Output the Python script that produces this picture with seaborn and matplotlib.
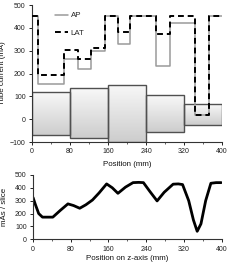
import numpy as np
import pandas as pd
import matplotlib
matplotlib.use("Agg")
import matplotlib.pyplot as plt
from matplotlib.patches import Rectangle
from matplotlib.ticker import MultipleLocator
import seaborn as sns

# --- data ---
step_edges = [0, 12, 68, 96, 124, 154, 180, 206, 262, 290, 343, 373, 400]
ap_values = [450, 155, 265, 220, 300, 450, 330, 450, 235, 420, 20, 450, 450]
lat_values = [450, 195, 305, 265, 310, 450, 380, 450, 375, 450, 20, 450, 450]

body_starts = [0, 80, 160, 240, 320]
body_ends = [80, 160, 240, 320, 400]
body_tops = [117, 136, 150, 104, 66]
body_bottoms = [-69, -81, -100, -54, -25]

mas_pos = [0, 5, 12, 20, 30, 42, 58, 74, 86, 99, 112, 126, 140, 156, 168, 180, 196, 212, 224, 234, 248, 263, 278, 297, 308, 317, 330, 340, 348, 356, 366, 377, 388, 399]
mas_vals = [325, 270, 200, 172, 172, 172, 225, 275, 262, 241, 268, 305, 360, 430, 400, 357, 405, 440, 442, 440, 370, 298, 365, 428, 430, 425, 300, 150, 62, 120, 300, 435, 440, 440]

x_ticks = [0, 80, 160, 240, 320, 400]

sns.set_style("white")
plt.rcParams['font.family'] = ['Liberation Sans', 'DejaVu Sans']

fig = plt.figure(figsize=(2.41, 2.65), dpi=100)
ax1 = fig.add_axes([0.133, 0.464, 0.788, 0.517])
ax2 = fig.add_axes([0.137, 0.097, 0.783, 0.243])

fs = 5.0
lfs = 5.7

# gradient body rectangles
grad = np.linspace(0, 1, 100).reshape(-1, 1)
cmap = matplotlib.colors.LinearSegmentedColormap.from_list('g', ['#f8f8f8', '#cdcdcd'])
for x0, x1, top, bot in zip(body_starts, body_ends, body_tops, body_bottoms):
    rect = Rectangle((x0, bot), x1 - x0, top - bot, facecolor='none',
                     edgecolor='#505050', linewidth=1.0, zorder=2)
    ax1.add_patch(rect)
    im = ax1.imshow(grad, extent=[x0, x1, bot, top], origin='upper',
                    cmap=cmap, aspect='auto', zorder=1)
    im.set_clip_path(rect)

df = pd.DataFrame({'pos': step_edges, 'AP': ap_values, 'LAT': lat_values})
sns.lineplot(data=df, x='pos', y='AP', ax=ax1, drawstyle='steps-post',
             color='#9a9a9a', linewidth=1.1, label='AP', zorder=3)
sns.lineplot(data=df, x='pos', y='LAT', ax=ax1, drawstyle='steps-post',
             color='black', linewidth=1.4, linestyle=(0, (3, 2)), label='LAT', zorder=4)

ax1.set_xlim(0, 400)
ax1.set_ylim(-100, 500)
ax1.set_xticks(x_ticks)
ax1.set_yticks(range(-100, 501, 100))
ax1.set_xlabel('Position (mm)', fontsize=lfs, labelpad=4, color='#111111')
ax1.set_ylabel('Tube current (mA)', fontsize=lfs, color='#111111')
ax1.yaxis.set_label_coords(-0.135, 0.5)
leg = ax1.legend(loc='upper left', bbox_to_anchor=(0.12, 0.95), frameon=False,
                 fontsize=lfs, handlelength=1.7, labelspacing=1.3, handletextpad=0.3,
                 borderaxespad=0, borderpad=0)

dfm = pd.DataFrame({'pos': mas_pos, 'mas': mas_vals})
sns.lineplot(data=dfm, x='pos', y='mas', ax=ax2, color='black', linewidth=2.0)
ax2.set_xlim(0, 400)
ax2.set_ylim(0, 500)
ax2.set_xticks(x_ticks)
ax2.set_yticks(range(0, 501, 100))
ax2.set_xlabel('Position on z-axis (mm)', fontsize=lfs, labelpad=2, color='#111111')
ax2.set_ylabel('mAs / slice', fontsize=lfs, color='#111111')
ax2.yaxis.set_label_coords(-0.135, 0.5)

for ax in (ax1, ax2):
    for s in ['top', 'right']:
        ax.spines[s].set_visible(False)
    for s in ['left', 'bottom']:
        ax.spines[s].set_color('#333333')
        ax.spines[s].set_linewidth(0.8)
    ax.xaxis.set_minor_locator(MultipleLocator(40))
    ax.tick_params(axis='both', which='major', labelsize=fs, length=2, width=0.7, pad=2.5,
                   direction='out', colors='#222222', left=True, bottom=True)
    ax.tick_params(axis='x', which='minor', length=1.5, width=0.6, bottom=True,
                   direction='out', colors='#444444')

fig.savefig('out.png', dpi=100)
